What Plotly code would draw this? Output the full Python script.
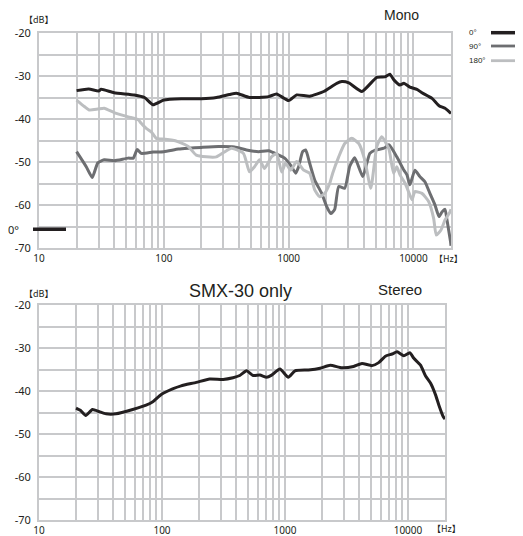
import plotly.graph_objects as go

# ---------------- data ----------------
FREQ_0 = [20, 25, 30, 31.5, 40, 58, 70, 82, 100, 138, 200, 264, 336, 382, 486,
          691, 801, 1000, 1160, 1475, 1910, 2430, 2670, 3035, 3860, 5090, 5900,
          6470, 6970, 7790, 8390, 9370, 10670, 11700, 14090, 16030, 17910, 19640, 20000]
DB_0 = [-33.4, -33.0, -33.5, -33.1, -33.9, -34.4, -35.0, -36.7, -35.6, -35.3,
        -35.3, -35.0, -34.3, -34.0, -35.0, -34.8, -34.2, -35.7, -34.4, -34.7,
        -33.6, -31.7, -31.3, -31.6, -33.6, -30.3, -30.2, -29.6, -30.9, -32.1,
        -31.7, -32.6, -33.1, -33.9, -35.2, -36.9, -37.5, -38.5, -38.7]

FREQ_90 = [20, 23.9, 26.7, 29.6, 33.3, 40, 51.9, 56.9, 61.2, 65.9, 82, 100, 131,
           157, 200, 274, 368, 460, 574, 691, 832, 929, 1058, 1138, 1203, 1295,
           1370, 1475, 1618, 1842, 2020, 2175, 2340, 2520, 2816, 3090, 3390, 3930,
           4475, 5000, 5800, 6360, 7360, 8390, 8880, 9370, 10280, 11270, 12360,
           13550, 14880, 16030, 16950, 17910, 18580, 19820, 20000]
DB_90 = [-47.6, -51.1, -53.6, -50.2, -49.5, -49.7, -49.1, -49.1, -47.1, -48.0,
         -47.7, -47.6, -47.0, -46.8, -46.6, -46.4, -46.5, -47.2, -47.6, -47.4,
         -48.4, -49.1, -51.1, -52.6, -51.1, -47.6, -47.2, -50.3, -54.2, -57.3,
         -60.4, -62.0, -61.0, -55.7, -56.1, -51.0, -49.0, -53.4, -48.0, -47.2,
         -46.8, -46.0, -48.8, -51.9, -53.0, -55.3, -51.9, -53.4, -54.6, -57.3,
         -60.0, -62.7, -61.6, -61.0, -63.5, -68.5, -69.5]

FREQ_180 = [20, 23.1, 25.2, 29.6, 33.3, 40, 51.9, 62.4, 65.9, 72.3, 79.4, 87.1,
            100, 115, 131, 157, 182, 219, 264, 301, 349, 435, 486, 533, 585, 641,
            730, 801, 879, 946, 1038, 1160, 1319, 1475, 1618, 1774, 1945, 2133,
            2255, 2520, 2816, 3205, 3650, 4075, 4555, 5090, 5580, 6360, 6935, 7360,
            7810, 8590, 9140, 9730, 10280, 11700, 13240, 14520, 15240, 16620,
            17910, 19640, 20000]
DB_180 = [-35.6, -37.1, -37.9, -37.7, -37.5, -38.5, -39.5, -40.2, -41.0, -42.2,
          -43.0, -44.5, -44.7, -44.9, -45.3, -46.4, -48.4, -48.8, -48.8, -47.8,
          -46.8, -48.0, -52.3, -51.1, -49.5, -51.5, -48.8, -48.0, -52.3, -50.3,
          -51.9, -49.9, -51.9, -52.6, -56.5, -58.1, -57.3, -55.0, -52.6, -48.8,
          -45.7, -44.5, -45.7, -49.5, -56.1, -46.4, -44.1, -47.0, -52.6, -51.1,
          -53.0, -55.0, -56.9, -58.8, -56.9, -57.3, -59.2, -63.1, -67.0, -65.8,
          -63.5, -61.6, -61.0]

FREQ_ST = [20, 21.9, 24.0, 27.2, 30.9, 35.1, 42.3, 57.8, 74.3, 84.2, 98.6, 122,
           143, 190, 244, 314, 378, 429, 487, 551, 625, 709, 779, 910, 1064, 1207,
           1550, 1930, 2330, 2900, 3610, 4225, 5100, 5780, 6550, 7430, 8160, 9250,
           10350, 11160, 12650, 13900, 15280, 16760, 17840, 19370, 20000]
DB_ST = [-44.0, -44.6, -45.7, -44.3, -44.8, -45.3, -45.3, -44.3, -43.3, -42.5,
         -40.8, -39.5, -38.8, -38.0, -37.2, -37.3, -36.9, -36.4, -35.3, -36.4,
         -36.3, -36.8, -36.3, -34.9, -36.8, -35.3, -35.1, -34.7, -34.0, -34.6,
         -34.3, -33.6, -34.1, -33.4, -31.9, -31.4, -30.9, -31.8, -31.1, -32.4,
         -34.0, -36.5, -38.2, -40.9, -43.3, -46.0, -46.5]

SERIES_TOP = [("0°", FREQ_0, DB_0, "#231f20"),
              ("90°", FREQ_90, DB_90, "#6d6e71"),
              ("180°", FREQ_180, DB_180, "#bcbec0")]

X_GRID = [m * 10 ** e for e in range(1, 5) for m in range(1, 10) if m * 10 ** e <= 20000] + [20000]
X_LABELS = {10: "10", 100: "100", 1000: "1000", 10000: "10000"}
Y_GRID = list(range(-70, -19, 5))

TITLE_TOP = "Mono"
TITLE_BOTTOM = "SMX-30 only"
SUBTITLE_BOTTOM = "Stereo"

# ---------------- layout helpers ----------------
OFF = 8                      # page body margin
W, H = 523 - OFF, 536 - OFF  # figure fills the window after the body offset
GRID = "#c8c9cb"
INK = "#231f20"


def px(x):
    return (x - OFF) / W


def py(y):
    return 1 - (y - OFF) / H


fig = go.Figure()

for name, f, d, c in SERIES_TOP:
    fig.add_trace(go.Scatter(x=f, y=d, mode="lines", name=name,
                             line=dict(color=c, width=3, shape="spline", smoothing=0.5),
                             xaxis="x", yaxis="y", showlegend=False))

fig.add_trace(go.Scatter(x=FREQ_ST, y=DB_ST, mode="lines", name="Stereo",
                         line=dict(color=INK, width=3, shape="spline", smoothing=0.5),
                         xaxis="x2", yaxis="y2", showlegend=False))

xt = dict(type="log", range=[1, 4.30103], tickmode="array", tickvals=X_GRID,
          ticktext=[X_LABELS.get(v, "") for v in X_GRID],
          showgrid=True, gridcolor=GRID, gridwidth=2, showline=True, mirror=True,
          linecolor=GRID, linewidth=2, zeroline=False, ticks="", automargin=False,
          tickfont=dict(family="Noto Sans", size=10, color=INK), ticklabelstandoff=0)
yt = dict(range=[-70, -20], tickmode="array", tickvals=Y_GRID,
          ticktext=[str(v) if v % 10 == 0 else "" for v in Y_GRID],
          showgrid=True, gridcolor=GRID, gridwidth=2, showline=True, mirror=True,
          linecolor=GRID, linewidth=2, zeroline=False, ticks="", automargin=False,
          tickfont=dict(family="Noto Sans", size=11, color=INK), ticklabelstandoff=4)

fig.update_layout(
    width=W, height=H, autosize=False,
    margin=dict(l=0, r=0, t=0, b=0, pad=0, autoexpand=False),
    paper_bgcolor="white", plot_bgcolor="white",
    xaxis=dict(xt, domain=[px(39), px(451)], anchor="y"),
    yaxis=dict(yt, domain=[py(248), py(33)], anchor="x"),
    xaxis2=dict(xt, domain=[px(39), px(445)], anchor="y2"),
    yaxis2=dict(yt, domain=[py(520), py(305)], anchor="x2"),
)

ann = []


def text(t, x, y, size, family="Liberation Sans", xanchor="center"):
    ann.append(dict(text=t, x=px(x), y=py(y), xref="paper", yref="paper",
                    xanchor=xanchor, yanchor="middle", showarrow=False,
                    font=dict(family=family, size=size, color=INK)))


text("【dB】", 39, 20, 9, family="Noto Sans CJK JP")
text("【dB】", 39, 293, 9, family="Noto Sans CJK JP")
text("【Hz】", 448, 258, 9, family="Noto Sans CJK JP")
text("【Hz】", 446, 528, 9, family="Noto Sans CJK JP")
text(TITLE_TOP, 401, 15, 14)
text(TITLE_BOTTOM, 240, 291, 18)
text(SUBTITLE_BOTTOM, 400, 289, 15)

# legend (text left of sample line)
shapes = []
for (name, _, _, c), yy, lw in zip(SERIES_TOP, [32.7, 46, 60.7], [3.5, 2.8, 2.8]):
    text(name, 467, yy, 8, xanchor="left")
    shapes.append(dict(type="line", xref="paper", yref="paper",
                       x0=px(491), x1=px(523), y0=py(yy), y1=py(yy),
                       line=dict(color=c, width=lw)))

# stray legend fragment at the lower left of the top chart
text("0°", 6, 229, 11, family="Noto Sans", xanchor="left")
shapes.append(dict(type="line", xref="paper", yref="paper",
                   x0=px(33), x1=px(66), y0=py(229.3), y1=py(229.3),
                   line=dict(color=INK, width=3.5)))

fig.update_layout(annotations=ann, shapes=shapes)

fig.write_html("out.html")
